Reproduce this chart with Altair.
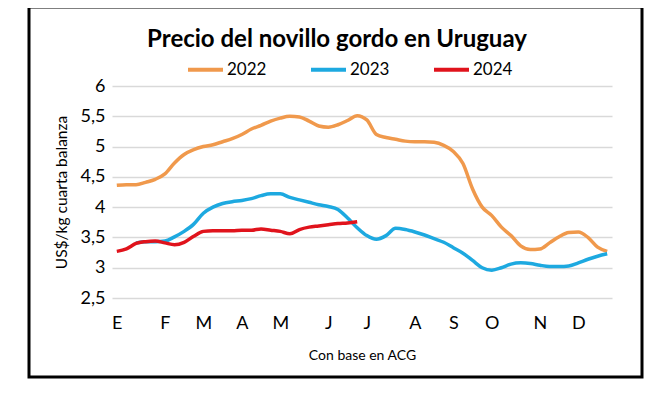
import altair as alt
import pandas as pd

title_text = "Precio del novillo gordo en Uruguay"
x_title = "Con base en ACG"
y_title = "US$/kg cuarta balanza"

years = ["2022", "2023", "2024"]
colors = ["#F0994C", "#1DA9E0", "#E0131C"]

v2022 = [4.36, 4.37, 4.37, 4.41, 4.46, 4.55, 4.73, 4.87, 4.95, 5.00, 5.03, 5.08, 5.13,
         5.20, 5.29, 5.35, 5.42, 5.47, 5.50, 5.49, 5.42, 5.34, 5.32, 5.36, 5.43, 5.51,
         5.44, 5.20, 5.15, 5.12, 5.09, 5.08, 5.08, 5.07, 5.02, 4.92, 4.72, 4.30, 4.00,
         3.86, 3.67, 3.53, 3.36, 3.30, 3.31, 3.41, 3.51, 3.58, 3.59, 3.50, 3.34, 3.27]
v2023 = [None, None, 3.41, 3.43, 3.43, 3.44, 3.51, 3.60, 3.72, 3.90, 4.00, 4.06, 4.09,
         4.11, 4.14, 4.19, 4.22, 4.22, 4.16, 4.12, 4.08, 4.04, 4.01, 3.96, 3.82, 3.66,
         3.53, 3.47, 3.53, 3.65, 3.63, 3.59, 3.54, 3.48, 3.42, 3.33, 3.24, 3.12, 3.00,
         2.96, 3.00, 3.06, 3.08, 3.07, 3.04, 3.02, 3.02, 3.03, 3.08, 3.14, 3.19, 3.23]
v2024 = [3.27, 3.31, 3.40, 3.43, 3.44, 3.41, 3.38, 3.42, 3.52, 3.60, 3.61, 3.61, 3.61,
         3.62, 3.62, 3.64, 3.62, 3.60, 3.56, 3.63, 3.67, 3.69, 3.71, 3.73, 3.74, 3.76]

month_pos = [0, 5, 9, 13, 17, 22, 26, 31, 35, 39, 44, 48]
month_lab = ["E", "F", "M", "A", "M", "J", "J", "A", "S", "O", "N", "D"]
y_ticks = [2.5, 3, 3.5, 4, 4.5, 5, 5.5, 6]

rows = []
for yr, vals in zip(years, [v2022, v2023, v2024]):
    for i, v in enumerate(vals):
        if v is not None:
            rows.append({"week": i, "value": v, "year": yr})
df = pd.DataFrame(rows)

FONT = "Lato"
x_label_expr = "[" + ",".join("'%s'" % m for m in month_lab) + "][indexof([" + \
    ",".join(str(p) for p in month_pos) + "], datum.value)]"

lines = alt.Chart(df).mark_line(strokeWidth=3.5, interpolate="monotone").encode(
    x=alt.X("week:Q",
            scale=alt.Scale(domain=[-0.5, 51.5], nice=False, zero=False),
            axis=alt.Axis(values=month_pos, labelExpr=x_label_expr, grid=False,
                          domain=False, ticks=False, labelFontSize=18, labelFont=FONT,
                          labelColor="black", labelPadding=16,
                          title=x_title, titleFont=FONT, titleFontSize=14,
                          titleFontWeight="normal", titleColor="black", titlePadding=16)),
    y=alt.Y("value:Q",
            scale=alt.Scale(domain=[2.5, 6], nice=False, zero=False),
            axis=alt.Axis(values=y_ticks,
                          labelExpr="replace(toString(datum.value), '.', ',')",
                          grid=True, gridColor="#d9d9d9", gridWidth=1.5,
                          domain=False, ticks=False, labelFontSize=18, labelFont=FONT,
                          labelColor="black", labelPadding=7,
                          title=y_title, titleFont=FONT, titleFontSize=15.5,
                          titleFontWeight="normal", titleColor="black", titlePadding=11)),
    color=alt.Color("year:N", scale=alt.Scale(domain=years, range=colors),
                    legend=alt.Legend(title=None, orient="none", legendX=74, legendY=-36,
                                      direction="horizontal", symbolType="stroke",
                                      symbolSize=1225, symbolStrokeWidth=4,
                                      labelFontSize=17, labelFont=FONT, labelColor="black",
                                      labelOffset=2, columnPadding=36, padding=0)),
)

frame = alt.Chart(pd.DataFrame({"k": [0]})).mark_rect(
    filled=False, stroke="black", strokeWidth=3
).encode(x=alt.value(-83), x2=alt.value(530), y=alt.value(-79), y2=alt.value(291))

title = alt.Chart(pd.DataFrame({"t": [title_text]})).mark_text(
    font=FONT, fontSize=24, fontWeight="bold", color="black",
    align="center", baseline="alphabetic"
).encode(text="t:N", x=alt.value(225), y=alt.value(-39))

chart = alt.layer(frame, lines, title).properties(
    width=500, height=212, autosize="none",
    padding={"left": 104, "top": 78, "right": 45, "bottom": 90},
    background="white",
).configure_view(stroke=None)

chart.save("out.html", embed_options={"renderer": "svg", "actions": False})
